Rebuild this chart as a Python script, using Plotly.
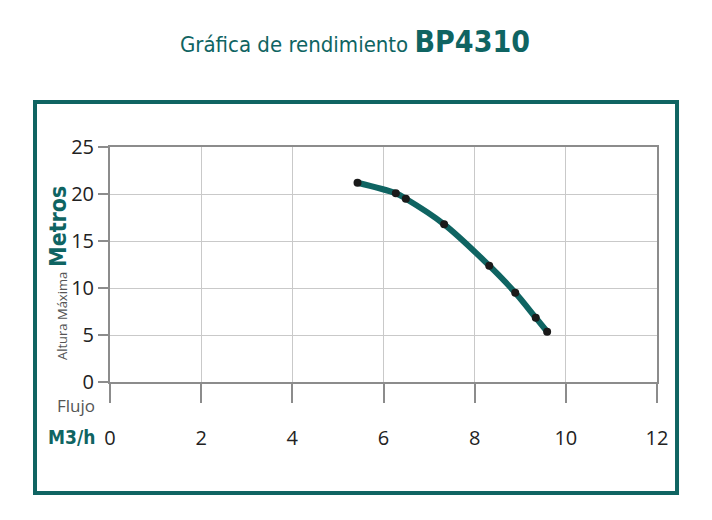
import plotly.graph_objects as go

# performance curve BP4310 (flow m3/h vs head m)
flujo = [5.43, 6.27, 6.49, 7.33, 8.32, 8.89, 9.34, 9.59]
altura = [21.2, 20.07, 19.5, 16.78, 12.37, 9.5, 6.84, 5.35]
x_ticks = [0, 2, 4, 6, 8, 10, 12]
y_ticks = [0, 5, 10, 15, 20, 25]

TEAL = "#0f6462"
GRID = "#c9c9c9"
AXIS = "#8c8c8c"
TICK_FONT = dict(family="Open Sans, Lato, sans-serif", size=20, color="#222222")
NARROW = "DejaVu Sans Condensed, Liberation Sans Narrow, Arial Narrow, Liberation Sans, Arial, sans-serif"

fig = go.Figure()
fig.add_trace(go.Scatter(
    x=flujo, y=altura,
    mode="lines+markers",
    line=dict(color=TEAL, width=6, shape="spline", smoothing=1.0),
    marker=dict(color="#1a1a1a", size=8),
    showlegend=False,
    hoverinfo="x+y",
))

fig.update_xaxes(
    range=[0, 12], tickvals=x_ticks, showgrid=True, gridcolor=GRID, gridwidth=1,
    showline=True, linecolor=AXIS, linewidth=2, mirror=True,
    ticks="outside", ticklen=19, tickwidth=2, tickcolor=AXIS,
    ticklabelstandoff=18, tickfont=TICK_FONT, zeroline=False,
)
fig.update_yaxes(
    range=[0, 25], tickvals=y_ticks, showgrid=True, gridcolor=GRID, gridwidth=1,
    showline=True, linecolor=AXIS, linewidth=2, mirror=True,
    ticks="outside", ticklen=10, tickwidth=2, tickcolor=AXIS,
    tickfont=TICK_FONT, zeroline=False,
)

# teal frame around the chart
fig.add_shape(type="rect", xref="paper", yref="paper",
              x0=-0.1371, x1=1.0366, y0=-0.4723, y1=1.1915,
              line=dict(color=TEAL, width=4), layer="below")

annotations = [
    dict(text="Gráfica de rendimiento <b><span style='font-size:30px'>BP4310</span></b>",
         x=0.447, y=1.447, font=dict(family=NARROW, size=22, color=TEAL)),
    dict(text="<b>Metros</b>", x=-0.095, y=0.66, textangle=-90,
         font=dict(family=NARROW, size=23, color=TEAL)),
    dict(text="Altura Máxima", x=-0.088, y=0.28, textangle=-90,
         font=dict(family="Open Sans, sans-serif", size=13, color="#555555")),
    dict(text="Flujo", x=-0.062, y=-0.102,
         font=dict(family="Open Sans, sans-serif", size=17, color="#555555")),
    dict(text="<b>M3/h</b>", x=-0.0695, y=-0.235,
         font=dict(family=NARROW, size=19, color=TEAL)),
]
for a in annotations:
    fig.add_annotation(xref="paper", yref="paper", showarrow=False,
                       xanchor="center", yanchor="middle", **a)

# margins allow for the page's 8px body offset
fig.update_layout(
    width=712, height=520,
    margin=dict(l=102, r=63, t=139, b=146),
    paper_bgcolor="white", plot_bgcolor="white",
)

fig.write_html("out.html")
